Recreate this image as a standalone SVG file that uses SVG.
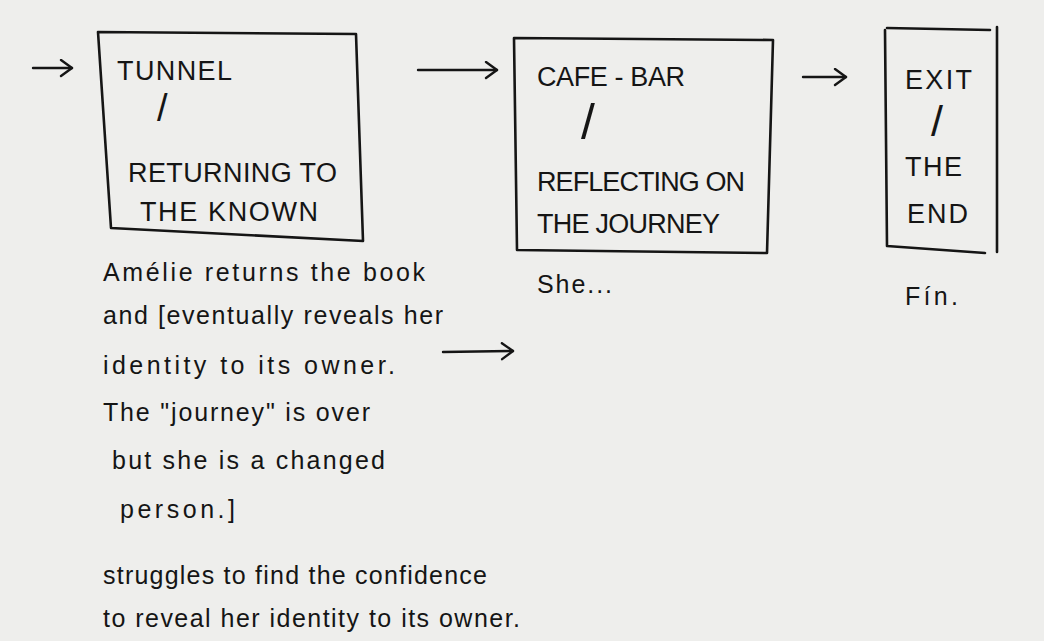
<svg xmlns="http://www.w3.org/2000/svg" width="1044" height="641" viewBox="0 0 1044 641">
<defs>
<marker id="ah" markerUnits="userSpaceOnUse" markerWidth="20" markerHeight="20" refX="13" refY="9" orient="auto">
<path d="M2,1 L13,9 L2,17" fill="none" stroke="#151515" stroke-width="2.4" stroke-linecap="round" stroke-linejoin="round"/>
</marker>
<style>
.bg{fill:#eeeeec}
.box{fill:none;stroke:#151515;stroke-width:2.6;stroke-linejoin:round;stroke-linecap:round}
.cap{font-family:"Liberation Sans",Arial,sans-serif;font-size:27px;fill:#151515}
.sl{font-family:"Liberation Sans",Arial,sans-serif;fill:#151515}
.hw{font-family:"Liberation Sans",Arial,sans-serif;font-size:25px;fill:#151515}
.conn{fill:none;stroke:#151515;stroke-width:2.4;stroke-linecap:round;marker-end:url(#ah)}
</style>
</defs>
<rect class="bg" x="0" y="0" width="1044" height="641"/>

<g id="connectors">
<path class="conn" d="M33,68 L72,68"/>
<path class="conn" d="M418,70 L497,70"/>
<path class="conn" d="M803,77 L846,77"/>
<path class="conn" d="M443,352 L513,351"/>
</g>

<g id="node-tunnel">
<path class="box" d="M98,32 L356,34 L363,241 L111,228 Z"/>
<text class="cap" x="117" y="80" textLength="115" lengthAdjust="spacing">TUNNEL</text>
<text class="sl" x="157" y="121" font-size="38">/</text>
<text class="cap" x="128" y="182" textLength="209" lengthAdjust="spacing">RETURNING TO</text>
<text class="cap" x="140" y="221" textLength="178" lengthAdjust="spacing">THE KNOWN</text>
</g>

<g id="node-cafe">
<path class="box" d="M514,38 L773,40 L767,253 L517,250 Z"/>
<text class="cap" x="537" y="86" textLength="148" lengthAdjust="spacing">CAFE - BAR</text>
<text class="sl" x="581" y="139" font-size="50">/</text>
<text class="cap" x="537" y="191" textLength="208" lengthAdjust="spacing">REFLECTING ON</text>
<text class="cap" x="537" y="233" textLength="183" lengthAdjust="spacing">THE JOURNEY</text>
<text class="hw" x="537" y="293" textLength="75" lengthAdjust="spacing">She...</text>
</g>

<g id="node-exit">
<path class="box" d="M887,28 L990,30 M997,27 L997,252 M985,253 L887,246 L885,30"/>
<text class="cap" x="905" y="89" textLength="67" lengthAdjust="spacing">EXIT</text>
<text class="sl" x="931" y="136" font-size="43">/</text>
<text class="cap" x="905" y="176" textLength="57" lengthAdjust="spacing">THE</text>
<text class="cap" x="907" y="223" textLength="61" lengthAdjust="spacing">END</text>
<text class="hw" x="905" y="305" textLength="53" lengthAdjust="spacing">Fín.</text>
</g>

<g id="notes">
<text class="hw" x="103" y="281" textLength="322" lengthAdjust="spacing">Amélie returns the book</text>
<text class="hw" x="103" y="324" textLength="340" lengthAdjust="spacing">and [eventually reveals her</text>
<text class="hw" x="103" y="374" textLength="292" lengthAdjust="spacing">identity to its owner.</text>
<text class="hw" x="103" y="421" textLength="267" lengthAdjust="spacing">The "journey" is over</text>
<text class="hw" x="112" y="469" textLength="273" lengthAdjust="spacing">but she is a changed</text>
<text class="hw" x="120" y="518" textLength="115" lengthAdjust="spacing">person.]</text>
<text class="hw" x="103" y="584" textLength="384" lengthAdjust="spacing">struggles to find the confidence</text>
<text class="hw" x="103" y="627" textLength="417" lengthAdjust="spacing">to reveal her identity to its owner.</text>
</g>
</svg>
